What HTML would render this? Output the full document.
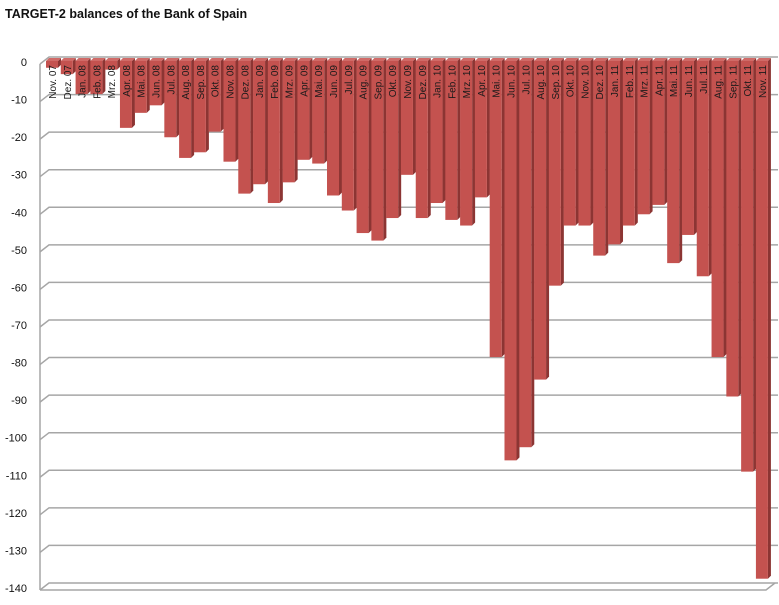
<!DOCTYPE html>
<html><head><meta charset="utf-8"><style>
body{margin:0;background:#fff;width:779px;height:600px;overflow:hidden}
svg{font-family:"Liberation Sans",sans-serif}
</style></head><body>
<svg id="c" width="779" height="600">
<text x="5" y="18" font-size="12.5" font-weight="bold" fill="#111">TARGET-2 balances of the Bank of Spain</text>
<g id="grid"></g><g id="bars"></g><g id="labels"></g>
</svg>
<script>
const categories=["Nov. 07","Dez. 07","Jan. 08","Feb. 08","Mrz. 08","Apr. 08","Mai. 08","Jun. 08","Jul. 08","Aug. 08","Sep. 08","Okt. 08","Nov. 08","Dez. 08","Jan. 09","Feb. 09","Mrz. 09","Apr. 09","Mai. 09","Jun. 09","Jul. 09","Aug. 09","Sep. 09","Okt. 09","Nov. 09","Dez. 09","Jan. 10","Feb. 10","Mrz. 10","Apr. 10","Mai. 10","Jun. 10","Jul. 10","Aug. 10","Sep. 10","Okt. 10","Nov. 10","Dez. 10","Jan. 11","Feb. 11","Mrz. 11","Apr. 11","Mai. 11","Jun. 11","Jul. 11","Aug. 11","Sep. 11","Okt. 11","Nov. 11"];
const values=[-1,-2.7,-8,-8,-1.5,-17,-13,-11,-19.5,-25,-23.5,-18,-26,-34.5,-32,-37,-31.5,-25.5,-26.5,-35,-39,-45,-47,-41,-29.5,-41,-37,-41.5,-43,-35.5,-78,-105.5,-102,-84,-59,-43,-43,-51,-48,-43,-40,-37.5,-53,-45.5,-56.5,-78,-88.5,-108.5,-137];
const yTicks=[0,-10,-20,-30,-40,-50,-60,-70,-80,-90,-100,-110,-120,-130,-140];
const NS="http://www.w3.org/2000/svg";
const y=v=>64+(-v)*3.757, x=i=>46+i*14.79, DX=9, DY=-7, L=40, R=766;
function mk(t,a,p){const e=document.createElementNS(NS,t);for(const k in a)e.setAttribute(k,a[k]);p.appendChild(e);return e;}
const g=document.getElementById('grid');
yTicks.forEach(v=>{
 const yy=y(v);
 const ln=mk('polyline',{points:`${L},${yy} ${L+DX},${yy+DY} ${R+DX},${yy+DY} ${R+DX+3},${yy+DY}`,fill:'none',stroke:'#a6a6a6','stroke-width':1.5},g);
 
 
 const t=mk('text',{x:27,y:yy+2,'font-size':11,'text-anchor':'end',fill:'#111'},g);
 t.textContent=v;
 
 
});
const ax=mk('line',{x1:L,y1:y(0),x2:L,y2:y(-140),stroke:'#a6a6a6','stroke-width':1.5},g);


const fl=mk('polyline',{points:`${L},${y(-140)} ${R},${y(-140)} ${R+DX},${y(-140)+DY}`,fill:'none',stroke:'#a6a6a6','stroke-width':1.5},g);


const b=document.getElementById('bars'),lb=document.getElementById('labels');
const W=12,D=3,DD=-3;
values.forEach((v,i)=>{
 const x0=x(i),yt=y(0)-3,yb=y(v);
 const grp=mk('g',{},b);
 
 
 mk('polygon',{points:`${x0+W},${yt} ${x0+W+D},${yt+DD} ${x0+W+D},${yb+DD} ${x0+W},${yb}`,fill:'#8c3533'},grp);
 mk('polygon',{points:`${x0},${yt} ${x0+D},${yt+DD} ${x0+W+D},${yt+DD} ${x0+W},${yt}`,fill:'#d06a67'},grp);
 mk('rect',{x:x0,y:yt,width:W,height:yb-yt,fill:'#c4524f'},grp);
 const t=mk('text',{transform:`translate(${x0+W/2+4},${yt+4}) rotate(-90)`,'font-size':10,'text-anchor':'end',fill:'#1a1a1a'},lb);
 t.textContent=categories[i];
 
 
});
</script>
</body></html>
